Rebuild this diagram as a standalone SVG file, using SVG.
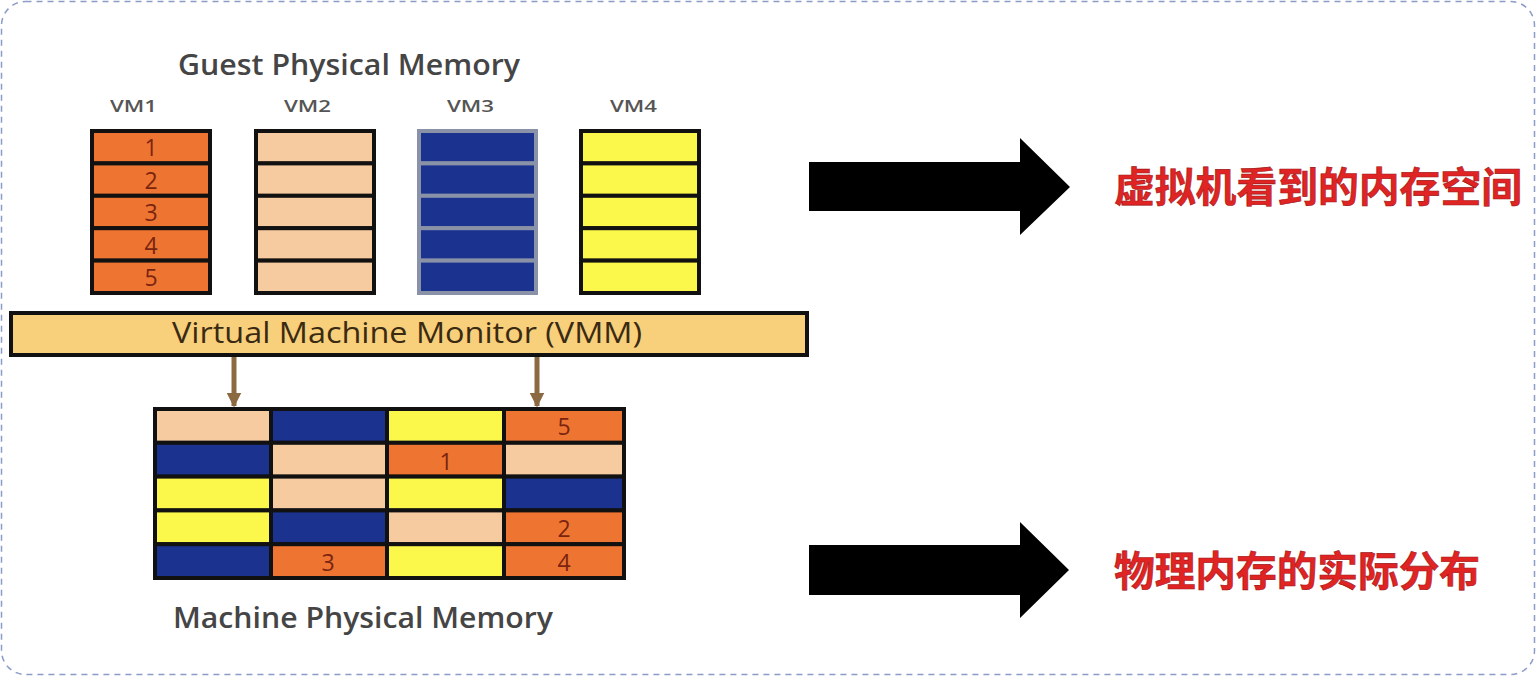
<svg xmlns="http://www.w3.org/2000/svg" width="1536" height="676" viewBox="0 0 1536 676">
<style>
.title{font-family:"Open Sans","Liberation Sans",sans-serif;font-size:28px;font-weight:600;fill:#454545}
.vml{font-family:"Open Sans","Liberation Sans",sans-serif;font-size:16px;font-weight:600;fill:#555}
.num{font-family:"Open Sans","Liberation Sans",sans-serif;font-size:23px;fill:#7a2410;text-anchor:middle}
.cn{font-family:"Noto Sans CJK SC","Noto Sans",sans-serif;font-size:41px;font-weight:bold;fill:#e02424;stroke:#a01818;stroke-width:0.6}
.cell{stroke:#111;stroke-width:4}
.or{fill:#ee7531}.pe{fill:#f7cba0}.bl{fill:#1b338f}.ye{fill:#fbf84b}
.vm3{fill:#1b338f;stroke:#8a92a8;stroke-width:4}
</style>
<defs>
<marker id="bh" viewBox="0 0 10 10" refX="9" refY="5" markerWidth="3" markerHeight="3" orient="auto" markerUnits="strokeWidth">
<path d="M0,0 L10,5 L0,10 z" fill="#8b6a42"/>
</marker>
</defs>
<rect x="1.5" y="1.5" width="1533" height="673" rx="24" fill="#fff" stroke="#8c9cc8" stroke-width="1.5" stroke-dasharray="6,5"/>

<g id="guest-title"><text class="title" x="178" y="75" textLength="342" lengthAdjust="spacingAndGlyphs">Guest Physical Memory</text></g>

<g id="vm1">
<text class="vml" x="110" y="112" textLength="47" lengthAdjust="spacingAndGlyphs">VM1</text>
<rect class="cell or" x="92" y="131" width="118" height="32.4"/>
<rect class="cell or" x="92" y="163.4" width="118" height="32.4"/>
<rect class="cell or" x="92" y="195.8" width="118" height="32.4"/>
<rect class="cell or" x="92" y="228.2" width="118" height="32.4"/>
<rect class="cell or" x="92" y="260.6" width="118" height="32.4"/>
<text class="num" x="151" y="156" textLength="13" lengthAdjust="spacingAndGlyphs" font-size="26">1</text>
<text class="num" x="151" y="189">2</text>
<text class="num" x="151" y="221">3</text>
<text class="num" x="151" y="254">4</text>
<text class="num" x="151" y="286">5</text>
</g>

<g id="vm2">
<text class="vml" x="284" y="112" textLength="47" lengthAdjust="spacingAndGlyphs">VM2</text>
<rect class="cell pe" x="256" y="131" width="118" height="32.4"/>
<rect class="cell pe" x="256" y="163.4" width="118" height="32.4"/>
<rect class="cell pe" x="256" y="195.8" width="118" height="32.4"/>
<rect class="cell pe" x="256" y="228.2" width="118" height="32.4"/>
<rect class="cell pe" x="256" y="260.6" width="118" height="32.4"/>
</g>

<g id="vm3">
<text class="vml" x="447" y="112" textLength="47" lengthAdjust="spacingAndGlyphs">VM3</text>
<rect class="vm3" x="419" y="131" width="117" height="32.4"/>
<rect class="vm3" x="419" y="163.4" width="117" height="32.4"/>
<rect class="vm3" x="419" y="195.8" width="117" height="32.4"/>
<rect class="vm3" x="419" y="228.2" width="117" height="32.4"/>
<rect class="vm3" x="419" y="260.6" width="117" height="32.4"/>
</g>

<g id="vm4">
<text class="vml" x="610" y="112" textLength="47" lengthAdjust="spacingAndGlyphs">VM4</text>
<rect class="cell ye" x="581" y="131" width="118" height="32.4"/>
<rect class="cell ye" x="581" y="163.4" width="118" height="32.4"/>
<rect class="cell ye" x="581" y="195.8" width="118" height="32.4"/>
<rect class="cell ye" x="581" y="228.2" width="118" height="32.4"/>
<rect class="cell ye" x="581" y="260.6" width="118" height="32.4"/>
</g>

<g id="vmm">
<rect x="11" y="313" width="796" height="42" fill="#f8cf7b" stroke="#111" stroke-width="4"/>
<text x="172" y="343" textLength="470" lengthAdjust="spacingAndGlyphs" font-family="Open Sans, Liberation Sans, sans-serif" font-size="29" fill="#3a2a12">Virtual Machine Monitor (VMM)</text>
</g>

<g id="connectors">
<line x1="234" y1="357" x2="234" y2="406" stroke="#8b6a42" stroke-width="5" marker-end="url(#bh)"/>
<line x1="537" y1="357" x2="537" y2="406" stroke="#8b6a42" stroke-width="5" marker-end="url(#bh)"/>
<path d="M809,162 L1020,162 L1020,138 L1070,187 L1020,235 L1020,211 L809,211 z" fill="#000"/>
<path d="M809,545 L1020,545 L1020,522 L1069,570 L1020,618 L1020,595 L809,595 z" fill="#000"/>
</g>

<g id="machine-memory">
<rect x="155" y="409" width="469" height="169" fill="#111"/>
<rect class="cell pe" x="155" y="409" width="116" height="33.8"/>
<rect class="cell bl" x="271" y="409" width="116" height="33.8"/>
<rect class="cell ye" x="387" y="409" width="117" height="33.8"/>
<rect class="cell or" x="504" y="409" width="120" height="33.8"/>
<rect class="cell bl" x="155" y="442.8" width="116" height="33.8"/>
<rect class="cell pe" x="271" y="442.8" width="116" height="33.8"/>
<rect class="cell or" x="387" y="442.8" width="117" height="33.8"/>
<rect class="cell pe" x="504" y="442.8" width="120" height="33.8"/>
<rect class="cell ye" x="155" y="476.6" width="116" height="33.8"/>
<rect class="cell pe" x="271" y="476.6" width="116" height="33.8"/>
<rect class="cell ye" x="387" y="476.6" width="117" height="33.8"/>
<rect class="cell bl" x="504" y="476.6" width="120" height="33.8"/>
<rect class="cell ye" x="155" y="510.4" width="116" height="33.8"/>
<rect class="cell bl" x="271" y="510.4" width="116" height="33.8"/>
<rect class="cell pe" x="387" y="510.4" width="117" height="33.8"/>
<rect class="cell or" x="504" y="510.4" width="120" height="33.8"/>
<rect class="cell bl" x="155" y="544.2" width="116" height="33.8"/>
<rect class="cell or" x="271" y="544.2" width="116" height="33.8"/>
<rect class="cell ye" x="387" y="544.2" width="117" height="33.8"/>
<rect class="cell or" x="504" y="544.2" width="120" height="33.8"/>
<text class="num" x="564" y="435" font-size="25">5</text>
<text class="num" x="446" y="470" font-size="25">1</text>
<text class="num" x="564" y="537" font-size="25">2</text>
<text class="num" x="328" y="571" font-size="25">3</text>
<text class="num" x="564" y="571" font-size="25">4</text>
</g>

<g id="machine-title"><text class="title" x="173" y="628" textLength="380" lengthAdjust="spacingAndGlyphs">Machine Physical Memory</text></g>

<g id="label-guest"><text class="cn" x="1114" y="202" textLength="408" lengthAdjust="spacingAndGlyphs">虚拟机看到的内存空间</text></g>
<g id="label-machine"><text class="cn" x="1114" y="586" textLength="366" lengthAdjust="spacingAndGlyphs">物理内存的实际分布</text></g>
</svg>
